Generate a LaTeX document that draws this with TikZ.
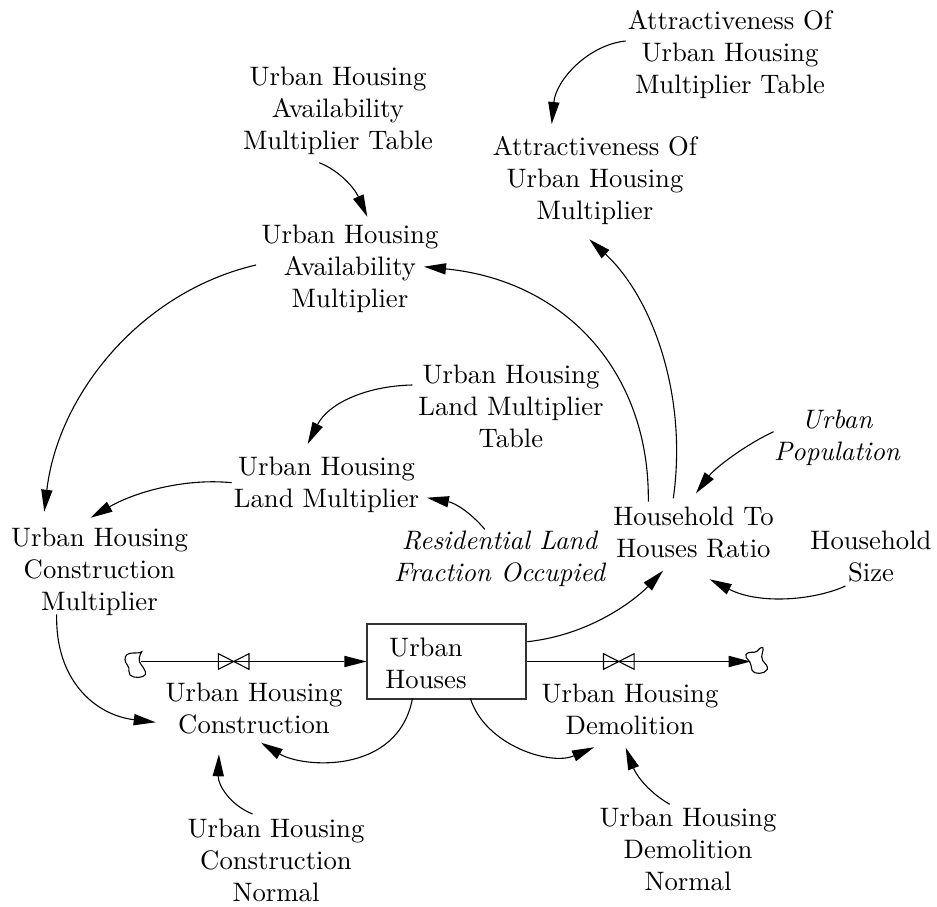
\documentclass[tikz,border=0pt]{standalone}
\usetikzlibrary{arrows.meta,calc}
\tikzset{
  txt/.style={scale=2.67,align=center,inner sep=0pt,text=black},
  itxt/.style={txt,font=\itshape},
  conn/.style={draw=black,line width=1.1pt,-{Triangle[length=22pt,width=11.5pt,line width=0pt]}},
  flowline/.style={draw=black,line width=1.2pt},
  flowarrow/.style={flowline,-{Triangle[length=22pt,width=11.5pt,line width=0pt]}},
  stock/.style={draw=black!80,line width=1.1pt,minimum width=159pt,minimum height=75pt,inner sep=0pt},
  valveshape/.style={draw=black,line width=1.1pt,line join=miter},
  cloudshape/.style={draw=black,line width=1.1pt}
}
\begin{document}
\begin{tikzpicture}[x=1pt,y=-1pt]
\useasboundingbox (0,0) rectangle (937,907);
% text nodes
\node[txt] (attrT) at (730,54.5) {Attractiveness Of\\Urban Housing\\Multiplier Table};
\node[txt] (attrM) at (595,180.7) {Attractiveness Of\\Urban Housing\\Multiplier};
\node[txt] (availT) at (338,111) {Urban Housing\\Availability\\Multiplier Table};
\node[txt] (availM) at (350,268.5) {Urban Housing\\Availability\\Multiplier};
\node[txt] (landT) at (511,406.5) {Urban Housing\\Land Multiplier\\Table};
\node[txt] (landM) at (326.5,484.5) {Urban Housing\\Land Multiplier};
\node[txt] (consM) at (99.5,572) {Urban Housing\\Construction\\Multiplier};
\node[itxt] (resid) at (499.5,558.7) {Residential Land\\Fraction Occupied};
\node[itxt] (upop) at (837,438) {Urban\\Population};
\node[txt] (ratio) at (693.5,532.7) {Household To\\Houses Ratio};
\node[txt] (hsize) at (871,556.3) {Household\\Size};
\node[stock] (houses) at (446.5,661.5) {};
\node[txt] (housesL) at (426,663.5) {Urban\\Houses};
\node[txt] (cons) at (254,709) {Urban Housing\\Construction};
\node[txt] (demo) at (630,709) {Urban Housing\\Demolition};
\node[txt] (consN) at (276,860) {Urban Housing\\Construction\\Normal};
\node[txt] (demoN) at (688,849) {Urban Housing\\Demolition\\Normal};
% flows
\coordinate (c1) at (141,661.5);
\coordinate (c2) at (750.7,661.5);
\coordinate (v1) at (233.7,661.5);
\coordinate (v2) at (618.8,661.5);
\draw[cloudshape,shift={(c1)}] (0.7,-9.8) .. controls (-3,-6.5) and (-16,-12) .. (-16,-2) .. controls (-16,3) and (-11,4) .. (-12,10) .. controls (-13,16) and (-3,17) .. (2,15) .. controls (7,13) and (4,8) .. (0,3) .. controls (-3,-1) and (-2,-5) .. (0.7,-9.8) -- cycle;
\draw[cloudshape,shift={(c2)}] (-4.7,-7) .. controls (-2,-11) and (3,-8) .. (6,-10) .. controls (8,-11.5) and (10,-15) .. (12,-14) .. controls (14,-12) and (9,-6) .. (12,-1) .. controls (14,2) and (18,5) .. (16.5,8) .. controls (14,13) and (3,13) .. (1.5,9) .. controls (0,5) and (1,3) .. (-2,-1) .. controls (-4,-3) and (-6,-5) .. (-4.7,-7) -- cycle;
\draw[flowline] (c1) -- (v1);
\draw[flowarrow] (v1) -- (houses);
\draw[flowline] (houses) -- (v2);
\draw[flowarrow] (v2) -- (c2);
\draw[valveshape,shift={(v1)}] (-15.3,-7.8) -- (15.3,7.8) -- (15.3,-7.8) -- (-15.3,7.8) -- cycle;
\draw[valveshape,shift={(v2)}] (-15.3,-7.8) -- (15.3,7.8) -- (15.3,-7.8) -- (-15.3,7.8) -- cycle;
% connectors
\draw[conn] ($(attrT)+(-104.3,-13.5)$) .. controls +(-37.7,4) and +(4.3,-44) .. ($(attrM)+(-43.3,-56.7)$);
\draw[conn] ($(availT)+(-18.7,51.7)$) .. controls +(18.7,7.3) and +(-13.3,-29.7) .. ($(availM)+(17.3,-51.8)$);
\draw[conn] ($(availM)+(-94,-3.5)$) .. controls +(-116,27) and +(13.7,-116.7) .. ($(consM)+(-55.2,-60.3)$);
\draw[conn] ($(ratio)+(-45.2,-31)$) .. controls +(1.7,-126.7) and +(144,14.3) .. ($(availM)+(74,-1.8)$);
\draw[conn] ($(ratio)+(-20.2,-34.4)$) .. controls +(14.7,-103.3) and +(62.7,57.7) .. ($(attrM)+(-5.7,58.6)$);
\draw[conn] ($(upop)+(-63.4,-6.3)$) .. controls +(-28.6,13.3) and +(19,-25.3) .. ($(ratio)+(2.5,-39.4)$);
\draw[conn] ($(hsize)+(-25.6,29.7)$) .. controls +(-30.4,14) and +(50.3,25.7) .. ($(ratio)+(16.2,46.6)$);
\draw[conn] ($(landT)+(-98.7,-21.5)$) .. controls +(-47.3,1) and +(20.3,-40) .. ($(landM)+(-18.8,-40.5)$);
\draw[conn] ($(landM)+(-94.8,-1.8)$) .. controls +(-46.7,-4.7) and +(44.3,-25.7) .. ($(consM)+(-8.8,-54.3)$);
\draw[conn] ($(resid)+(-14.7,-29.4)$) .. controls +(-14.8,-17.3) and +(28.1,5.3) .. ($(landM)+(100.4,13.2)$);
\draw[conn] ($(houses)+(80.8,-19.8)$) .. controls +(62.7,-6.7) and +(-28,29.3) .. ($(ratio)+(-30.5,38)$);
\draw[conn] ($(consM)+(-42.8,42.3)$) .. controls +(-1.7,65.7) and +(-60.7,-7.3) .. ($(cons)+(-98.3,13.3)$);
\draw[conn] ($(houses)+(-34,36.8)$) .. controls +(-14.5,76.7) and +(42,25.3) .. ($(cons)+(7,33.7)$);
\draw[conn] ($(houses)+(23.8,36.8)$) .. controls +(14.7,46.7) and +(-44,18.7) .. ($(demo)+(-36,38.3)$);
\draw[conn] ($(consN)+(-23.4,-46)$) .. controls +(-22.6,-9) and +(-0.9,30.7) .. ($(cons)+(-35.1,45.3)$);
\draw[conn] ($(demoN)+(-18.3,-44.7)$) .. controls +(-24.7,-14.3) and +(9.3,24.3) .. ($(demo)+(-4.3,38.7)$);
\end{tikzpicture}
\end{document}
